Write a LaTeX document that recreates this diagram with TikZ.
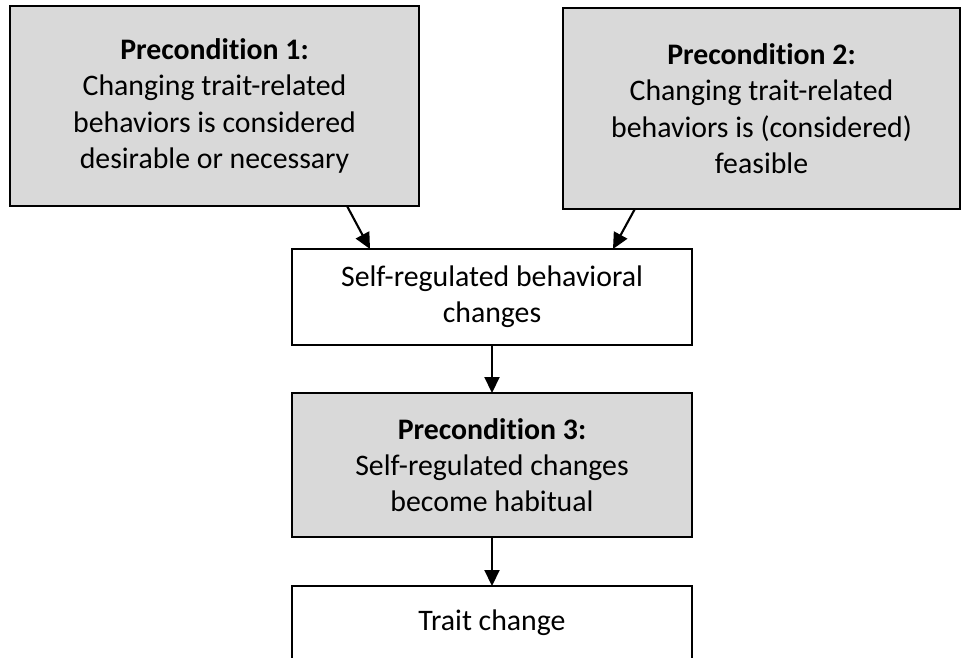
\documentclass[tikz,border=0pt]{standalone}
\usepackage{fontspec}
\setmainfont[Ligatures=NoCommon]{Carlito}
\usetikzlibrary{arrows.meta,calc}
\definecolor{boxgray}{HTML}{D9D9D9}
\begin{document}
\begin{tikzpicture}[x=1pt,y=-1pt,
  box/.style={draw=black, line width=2.1pt, rectangle, inner sep=0pt, outer sep=0pt,
    align=center, font=\fontsize{29.8}{36.3}\selectfont},
  pre/.style={box, fill=boxgray},
  plain/.style={box, fill=white},
  link/.style={line width=2.1pt, -{Triangle[length=16pt,width=15pt]}}]
\useasboundingbox (0,0) rectangle (962,657);
\clip (0,0) rectangle (962,657);

% preconditions and outcomes
\node[pre, minimum width=409pt, minimum height=200pt] (p1) at (214.5,106)
  {\textbf{Precondition 1:}\\Changing trait-related\\behaviors is considered\\desirable or necessary};
\node[pre, minimum width=397pt, minimum height=201pt] (p2) at (761.5,108.5)
  {\textbf{Precondition 2:}\\Changing trait-related\\behaviors is (considered)\\feasible};
\node[plain, minimum width=400pt, minimum height=96pt] (srb) at (492,297)
  {Self-regulated behavioral\\changes};
\node[pre, minimum width=400pt, minimum height=144pt] (p3) at (492,465)
  {\textbf{Precondition 3:}\\Self-regulated changes\\become habitual};
\node[plain, minimum width=400pt, minimum height=74pt] (tc) at (492,623)
  {Trait change};

% connectors
\draw[link] ($(p1.south west)!0.824!(p1.south east)$) -- ($(srb.north west)!0.195!(srb.north east)$);
\draw[link] ($(p2.south west)!0.181!(p2.south east)$) -- ($(srb.north west)!0.8025!(srb.north east)$);
\draw[link] (srb.south) -- (p3.north);
\draw[link] (p3.south) -- (tc.north);
\end{tikzpicture}
\end{document}
